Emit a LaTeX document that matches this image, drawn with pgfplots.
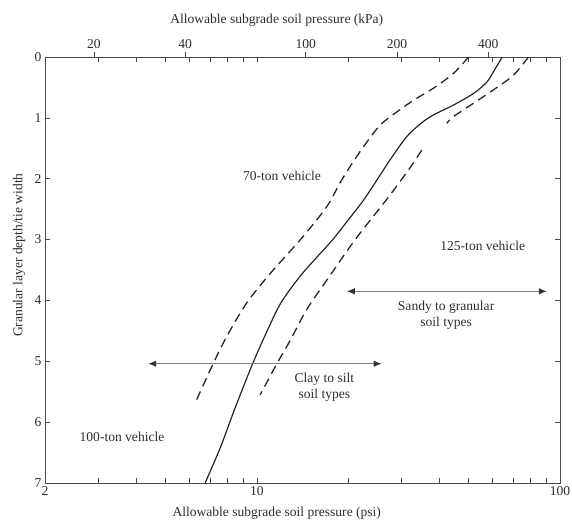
\documentclass[border=0pt]{standalone}
\usepackage{fontspec}
\setmainfont{Liberation Serif}
\usepackage{pgfplots}
\pgfplotsset{compat=1.18}
\usetikzlibrary{arrows.meta}
\definecolor{txt}{HTML}{2E2E2E}
\definecolor{axc}{HTML}{4A4A4A}
\begin{document}
\begin{tikzpicture}
\pgfplotsset{
  common/.style={
    scale only axis, width=515bp, height=426bp,
    ymin=0, ymax=7, y dir=reverse,
    font=\fontsize{13.6}{16}\selectfont,
    tick label style={font=\fontsize{13.6}{16}\selectfont, text=txt},
    label style={font=\fontsize{13.6}{16}\selectfont, text=txt},
    /pgf/number format/assume math mode=true,
    major tick length=5bp, minor tick length=5bp,
    tick style={axc, line width=0.7bp},
  }
}
\begin{axis}[common,
  xmode=log, xmin=2, xmax=100,
  xtick={2,10,100}, xticklabels={2,10,100},
  minor xtick={3,4,5,6,7,8,9,20,30,40,50,60,70,80,90},
  ytick={0,1,2,3,4,5,6,7},
  tick align=inside,
  xtick pos=both, ytick pos=both,
  xticklabel pos=bottom, yticklabel pos=left,
  axis line style={axc, line width=0.9bp},
  xlabel={Allowable subgrade soil pressure (psi)},
  xlabel style={at={(axis description cs:0.45,-0.07)}, anchor=center},
  ylabel={Granular layer depth/tie width},
  ylabel style={at={(axis description cs:-0.05,0.535)}, anchor=center, rotate=0},
]
% 70-ton vehicle (upper dashed)
\addplot[black!85, line width=1.3bp, dash pattern=on 9bp off 5.5bp, smooth, tension=0.5] coordinates {
(49.9,0.0) (44.5,0.27) (38.3,0.51) (32.9,0.71) (29.0,0.90) (25.5,1.12)
(22.5,1.47) (20.3,1.80) (18.8,2.07) (17.0,2.46) (14.2,2.95) (11.1,3.55)
(9.26,4.04) (7.96,4.59) (7.19,5.03) (6.33,5.63)};
% 100-ton vehicle (solid)
\addplot[black!85, line width=1.2bp, smooth, tension=0.5] coordinates {
(64.5,0.0) (61.0,0.2) (57.4,0.41) (51.8,0.60) (44.5,0.79) (38.3,0.95)
(35.0,1.08) (31.2,1.31) (27.5,1.69) (24.9,2.02) (22.5,2.35) (20.0,2.68)
(17.8,3.00) (15.9,3.27) (13.9,3.60) (12.0,4.04) (10.7,4.55) (9.7,5.03)
(8.5,5.75) (7.6,6.40) (6.75,7.0)};
% 125-ton vehicle (lower dashed), upper part
\addplot[black!85, line width=1.3bp, dash pattern=on 9bp off 5.5bp, smooth, tension=0.5] coordinates {
(78.7,0.0) (70.2,0.30) (60.3,0.54) (51.8,0.76) (44.5,0.98) (42.3,1.09)};
% 125-ton vehicle (lower dashed), lower part
\addplot[black!85, line width=1.3bp, dash pattern=on 9bp off 5.5bp, smooth, tension=0.5] coordinates {
(35.0,1.53) (31.6,1.86) (26.7,2.35) (21.1,3.00) (17.05,3.66) (14.6,4.15)
(12.9,4.65) (11.67,5.03) (10.25,5.55)};
% arrows
\draw[black!50, line width=1.1bp, {Latex[length=8bp,width=6.5bp,color=black!80]}-{Latex[length=8bp,width=6.5bp,color=black!80]}]
  (axis cs:19.8,3.85) -- (axis cs:90.5,3.85);
\draw[black!50, line width=1.1bp, {Latex[length=8bp,width=6.5bp,color=black!80]}-{Latex[length=8bp,width=6.5bp,color=black!80]}]
  (axis cs:4.38,5.04) -- (axis cs:25.8,5.04);
% labels
\node[text=txt, font=\fontsize{13.6}{16}\selectfont] at (axis cs:12.1,1.95) {70-ton vehicle};
\node[text=txt, font=\fontsize{13.6}{16}\selectfont] at (axis cs:55.6,3.10) {125-ton vehicle};
\node[text=txt, font=\fontsize{13.6}{16}\selectfont] at (axis cs:3.59,6.24) {100-ton vehicle};
\node[text=txt, font=\fontsize{13.6}{16}\selectfont, align=center] at (axis cs:42.1,4.24) {Sandy to granular\\soil types};
\node[text=txt, font=\fontsize{13.6}{16}\selectfont, align=center] at (axis cs:16.7,5.43) {Clay to silt\\soil types};
\end{axis}
\begin{axis}[common,
  xmode=log, xmin=13.79, xmax=689.5,
  axis x line*=top, hide y axis,
  x axis line style={draw=none},
  xtick={20,40,100,200,400}, xticklabels={20,40,100,200,400},
  minor xtick={},
  tick align=outside,
  xlabel={Allowable subgrade soil pressure (kPa)},
  xlabel style={at={(axis description cs:0.45,1.087)}, anchor=center},
]
\end{axis}
\pgfresetboundingbox
\path (-45bp,-44bp) rectangle (527bp,483bp);
\end{tikzpicture}
\end{document}
